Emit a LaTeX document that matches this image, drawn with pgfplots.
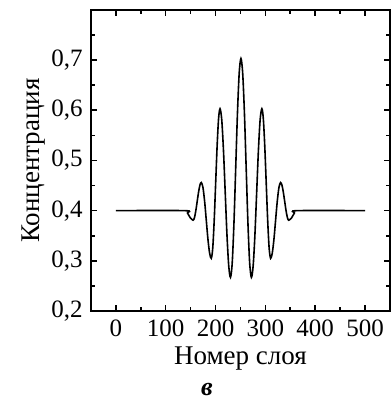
\documentclass[border=0pt]{standalone}
\usepackage{fontspec}
\setmainfont{Liberation Serif}
\usepackage{pgfplots}
\pgfplotsset{compat=1.18}
\begin{document}
\fontsize{12}{14}\selectfont
\begin{tikzpicture}
\begin{axis}[
  scale only axis,
  width=149.5pt, height=150.5pt,
  xmin=-50, xmax=550, ymin=0.2, ymax=0.8,
  xtick={0,100,...,500},
  minor xtick={50,150,250,350,450},
  ytick={0.2,0.3,0.4,0.5,0.6,0.7},
  minor ytick={0.25,0.35,0.45,0.55,0.65,0.75},
  tick align=inside,
  major tick length=3pt, minor tick length=2pt,
  axis line style={line width=1pt},
  every tick/.style={black, line width=0.8pt},
  tick label style={font=\fontsize{12.5}{14}\selectfont},
  label style={font=\fontsize{13.5}{16}\selectfont},
  /pgf/number format/assume math mode=true,
  yticklabel style={/pgf/number format/.cd, use comma, fixed, fixed zerofill, precision=1},
  xticklabel style={/pgf/number format/.cd, fixed, precision=0},
  xlabel={Номер слоя},
  ylabel={Концентрация},
  xlabel style={yshift=3pt},
  ylabel style={yshift=-5pt},
  clip=false,
]
\addplot[black, line width=0.8pt, smooth, tension=0.5] coordinates {
(0,0.400) (138,0.400) (143.7,0.3953) (149.3,0.3858) (155,0.381)
(157.75,0.386) (160.5,0.400) (163.25,0.4185) (166,0.437) (168.75,0.451) (171.5,0.456)
(174.8,0.446) (178.2,0.418) (181.5,0.3805) (184.8,0.343) (188.2,0.315) (191.5,0.305)
(194.4,0.325) (197.3,0.3795) (200.25,0.454) (203.2,0.5285) (206.1,0.583) (209,0.603)
(212.5,0.581) (216,0.519) (219.5,0.435) (223,0.351) (226.5,0.290) (230,0.267)
(233.5,0.296) (237,0.376) (240.5,0.485) (244,0.594) (247.5,0.674) (251,0.703)
(254.5,0.674) (258,0.594) (261.5,0.485) (265,0.376) (268.5,0.296) (272,0.267)
(275.5,0.290) (279,0.351) (282.5,0.435) (286,0.519) (289.5,0.581) (293,0.603)
(295.9,0.583) (298.8,0.5285) (301.75,0.454) (304.7,0.3795) (307.6,0.325) (310.5,0.305)
(313.8,0.315) (317.2,0.343) (320.5,0.3805) (323.8,0.418) (327.2,0.446) (330.5,0.456)
(333.25,0.451) (336,0.437) (338.75,0.4185) (341.5,0.400) (344.25,0.386) (347,0.381)
(352.7,0.3858) (358.3,0.3953) (364,0.400) (500,0.400)
};
\node[inner sep=0pt, font=\fontsize{13}{15}\selectfont\bfseries\itshape] at (rel axis cs:0.388,-0.262) {в};
\path (rel axis cs:-0.304,-0.3056) rectangle (rel axis cs:1.0043,1.033);
\end{axis}
\end{tikzpicture}
\end{document}
